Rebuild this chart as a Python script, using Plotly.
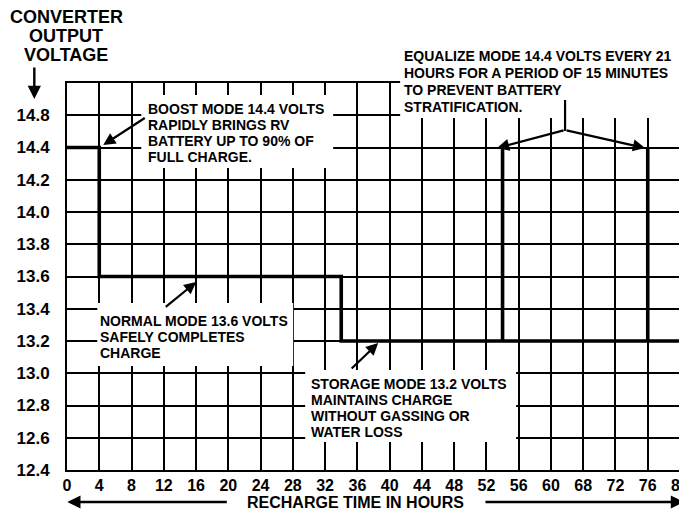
import numpy as np
import plotly.graph_objects as go

# ---- data ----
x_tick_labels = [0, 4, 8, 12, 16, 20, 24, 28, 32, 36, 40, 44, 48, 52, 56, 60, 68, 72, 76, 80]
y_tick_labels = [12.4, 12.6, 12.8, 13.0, 13.2, 13.4, 13.6, 13.8, 14.0, 14.2, 14.4, 14.8]

hours = [0, 4, 4, 34, 34, 54, 54, 54, 76, 76, 76, 80]
volts = [14.4, 14.4, 13.6, 13.6, 13.2, 13.2, 14.4, 13.2, 13.2, 14.4, 13.2, 13.2]

boost_text = ["BOOST MODE 14.4 VOLTS", "RAPIDLY BRINGS RV", "BATTERY UP TO 90% OF", "FULL CHARGE."]
normal_text = ["NORMAL MODE 13.6 VOLTS", "SAFELY COMPLETES", "CHARGE"]
storage_text = ["STORAGE MODE 13.2 VOLTS", "MAINTAINS CHARGE", "WITHOUT GASSING OR", "WATER LOSS"]
equalize_text = ["EQUALIZE MODE 14.4 VOLTS EVERY 21", "HOURS FOR A PERIOD OF 15 MINUTES",
                 "TO PREVENT BATTERY", "STRATIFICATION."]
y_title = ["CONVERTER", "OUTPUT", "VOLTAGE"]
x_title = "RECHARGE TIME IN HOURS"

# the chart's axes are evenly spaced by tick label, so map values through them
def xs(h):
    return np.interp(h, x_tick_labels, np.arange(len(x_tick_labels)))

def ys(v):
    return np.interp(v, y_tick_labels, np.arange(len(y_tick_labels)))

# window-pixel layout helpers (plot area: x 66.7..680, y 83..470); page has 8px body margin
OFF = 8
L, R, T, B = 66.7, 680.0, 83.0, 470.0
W, H = 687 - OFF, 515 - OFF
NX, NY = len(x_tick_labels) - 1, len(y_tick_labels)

def xp(p):
    return (p - L) / (R - L)

def yp(p):
    return (B - p) / (B - T)

FONT = "Liberation Sans, Arial, sans-serif"

fig = go.Figure()
fig.add_trace(go.Scatter(
    x=xs(hours), y=ys(volts), mode="lines",
    line=dict(color="black", width=3.6), hoverinfo="skip", showlegend=False,
))

fig.update_layout(
    width=W, height=H,
    margin=dict(l=L - OFF, r=W + OFF - R, t=T - OFF, b=H + OFF - B, autoexpand=False),
    paper_bgcolor="white", plot_bgcolor="white",
    font=dict(family=FONT, color="black"),
    xaxis=dict(
        range=[0, NX], tickmode="array", automargin=False,
        tickvals=list(range(len(x_tick_labels))),
        ticktext=[str(v) for v in x_tick_labels],
        showgrid=True, gridcolor="black", gridwidth=1.6,
        showline=True, linecolor="black", linewidth=2, mirror=True,
        ticks="", zeroline=False, ticklabelstandoff=0,
        ticklabeloverflow="allow",
        tickfont=dict(size=16, family=FONT, weight="bold"),
    ),
    yaxis=dict(
        range=[0, NY], tickmode="array", automargin=False,
        tickvals=list(range(len(y_tick_labels))) + [NY],
        ticktext=[f"{v:.1f}" for v in y_tick_labels] + [""],
        showgrid=True, gridcolor="black", gridwidth=1.6,
        showline=True, linecolor="black", linewidth=2, mirror=True,
        ticks="", zeroline=False, ticklabelstandoff=12,
        tickfont=dict(size=17, family=FONT, weight="bold"),
    ),
)

def white_box(x0, y0, x1, y1):
    fig.add_shape(type="rect", xref="paper", yref="paper",
                  x0=xp(x0), x1=xp(x1), y0=yp(y1), y1=yp(y0),
                  fillcolor="white", line=dict(width=0), layer="above")

def text_lines(x, y_first, lines, step=16, size=14):
    for i, t in enumerate(lines):
        fig.add_annotation(
            x=xp(x), y=yp(y_first + i * step), xref="paper", yref="paper",
            text=t, showarrow=False, xanchor="left", yanchor="middle", align="left",
            font=dict(size=size, family=FONT, color="black", weight="bold"),
        )

def arrow(x0, y0, x1, y1, w=2.2):
    fig.add_annotation(
        x=xp(x1), y=yp(y1), xref="paper", yref="paper",
        ax=x0 - x1, ay=y0 - y1, text="", showarrow=True, arrowhead=2,
        arrowsize=1.1, arrowwidth=w, arrowcolor="black",
    )

white_box(141, 95, 333, 168)
white_box(97, 303, 293, 366)
white_box(305, 370, 516, 442)
white_box(400, 44, 687, 118)

text_lines(146, 108.5, boost_text)
text_lines(98, 321, normal_text)
text_lines(309, 384, storage_text)
text_lines(402, 56, equalize_text, step=17)

arrow(146, 117, 103, 145)
arrow(164, 308, 196, 282)
arrow(350, 370, 378, 343)

# equalize branching arrow
fig.add_shape(type="line", xref="paper", yref="paper",
              x0=xp(565), x1=xp(565), y0=yp(100), y1=yp(131),
              line=dict(color="black", width=2.2), layer="above")
arrow(565, 130, 497, 148)
arrow(565, 130, 645, 148)

# y axis title
for i, t in enumerate(y_title):
    fig.add_annotation(
        x=xp(66), y=yp(17 + 19 * i), xref="paper", yref="paper", text=t,
        showarrow=False, font=dict(size=18, family=FONT, weight="bold"),
        xanchor="center", yanchor="middle",
    )
arrow(34, 66, 34, 99, w=2.4)

# x axis title with arrows
fig.add_annotation(
    x=xp(355), y=yp(502), xref="paper", yref="paper", text=x_title,
    showarrow=False, font=dict(size=16, family=FONT, weight="bold"),
    xanchor="center", yanchor="middle",
)
arrow(228, 502, 67, 502, w=2.4)
arrow(484, 502, 684, 502, w=2.4)

fig.write_html("out.html")
